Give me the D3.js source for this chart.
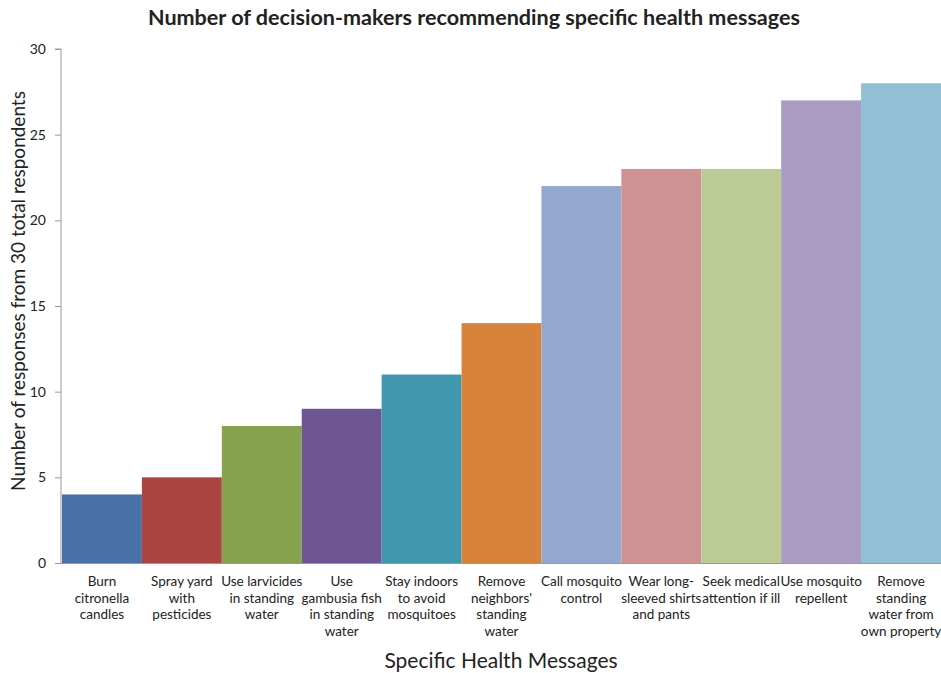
<!DOCTYPE html>
<html>
<head>
<meta charset="utf-8">
<script src="https://cdn.jsdelivr.net/npm/d3@7"></script>
<style>
  body { margin: 0; background: #fff; }
  text { font-family: Lato, "Open Sans", sans-serif; fill: #222; }
</style>
</head>
<body>
<div id="chart"></div>
<script>
var svgWidth = 941;
var svgHeight = 673;

var margin = { top: 49, right: 0, bottom: 110, left: 62 };
var width = svgWidth - margin.left - margin.right;
var height = svgHeight - margin.top - margin.bottom;

// Data
var categories = [
  ["Burn", "citronella", "candles"],
  ["Spray yard", "with", "pesticides"],
  ["Use larvicides", "in standing", "water"],
  ["Use", "gambusia fish", "in standing", "water"],
  ["Stay indoors", "to avoid", "mosquitoes"],
  ["Remove", "neighbors'", "standing", "water"],
  ["Call mosquito", "control"],
  ["Wear long-", "sleeved shirts", "and pants"],
  ["Seek medical", "attention if ill"],
  ["Use mosquito", "repellent"],
  ["Remove", "standing", "water from", "own property"]
];
var responses = [4, 5, 8, 9, 11, 14, 22, 23, 23, 27, 28];
var barColors = ["#4a71a6", "#aa4543", "#87a24c", "#6e5594", "#4197ae", "#d8833b",
                 "#93a8cf", "#cf9292", "#bccb96", "#a99bc1", "#93bfd5"];
var yTicks = [0, 5, 10, 15, 20, 25, 30];

var svg = d3.select("#chart")
  .append("svg")
  .attr("width", svgWidth)
  .attr("height", svgHeight);

var chart = svg.append("g")
  .attr("transform", `translate(${margin.left}, ${margin.top})`);

// Scales
var xScale = d3.scaleBand()
  .domain(d3.range(categories.length))
  .range([0, width])
  .padding(0);

var yScale = d3.scaleLinear()
  .domain([0, 30])
  .range([height, 0]);

// Bars
chart.append("g")
  .selectAll("rect")
  .data(responses)
  .enter()
  .append("rect")
  .attr("x", (d, i) => xScale(i))
  .attr("y", d => yScale(d))
  .attr("width", xScale.bandwidth())
  .attr("height", d => height - yScale(d))
  .attr("fill", (d, i) => barColors[i]);

// Y axis
var leftAxis = d3.axisLeft(yScale)
  .tickValues(yTicks)
  .tickSize(6)
  .tickPadding(9);

var yAxis = chart.append("g")
  .attr("transform", "translate(-1, 0)")
  .call(leftAxis);
yAxis.selectAll("path, line").attr("stroke", "#999");
yAxis.select(".domain").attr("d", `M-6,${yScale(30)}H0V${height}`);
yAxis.selectAll("text")
  .attr("font-size", "14px")
  .attr("font-family", "Lato, sans-serif")
  .attr("fill", "#222");

// X axis line
chart.append("line")
  .attr("x1", -1)
  .attr("x2", width)
  .attr("y1", height + 0.5)
  .attr("y2", height + 0.5)
  .attr("stroke", "#999");

// Category labels
var catLabels = chart.append("g")
  .selectAll("text")
  .data(categories)
  .enter()
  .append("text")
  .attr("text-anchor", "middle")
  .attr("font-size", "13.5px")
  .attr("transform", (d, i) => `translate(${xScale(i) + xScale.bandwidth() / 2}, ${height + 23})`);

catLabels.selectAll("tspan")
  .data(d => d)
  .enter()
  .append("tspan")
  .attr("x", 0)
  .attr("dy", (d, j) => j === 0 ? 0 : 16.5)
  .text(d => d);

// Title
svg.append("text")
  .attr("x", 474)
  .attr("y", 25)
  .attr("text-anchor", "middle")
  .attr("font-size", "21.5px")
  .attr("font-weight", "bold")
  .attr("textLength", 652)
  .attr("lengthAdjust", "spacingAndGlyphs")
  .text("Number of decision-makers recommending specific health messages");

// Axis titles
svg.append("text")
  .attr("transform", "rotate(-90)")
  .attr("x", -291)
  .attr("y", 25)
  .attr("text-anchor", "middle")
  .attr("font-size", "19px")
  .text("Number of responses from 30 total respondents");

svg.append("text")
  .attr("x", 501)
  .attr("y", 668)
  .attr("text-anchor", "middle")
  .attr("font-size", "21px")
  .text("Specific Health Messages");
</script>
</body>
</html>
